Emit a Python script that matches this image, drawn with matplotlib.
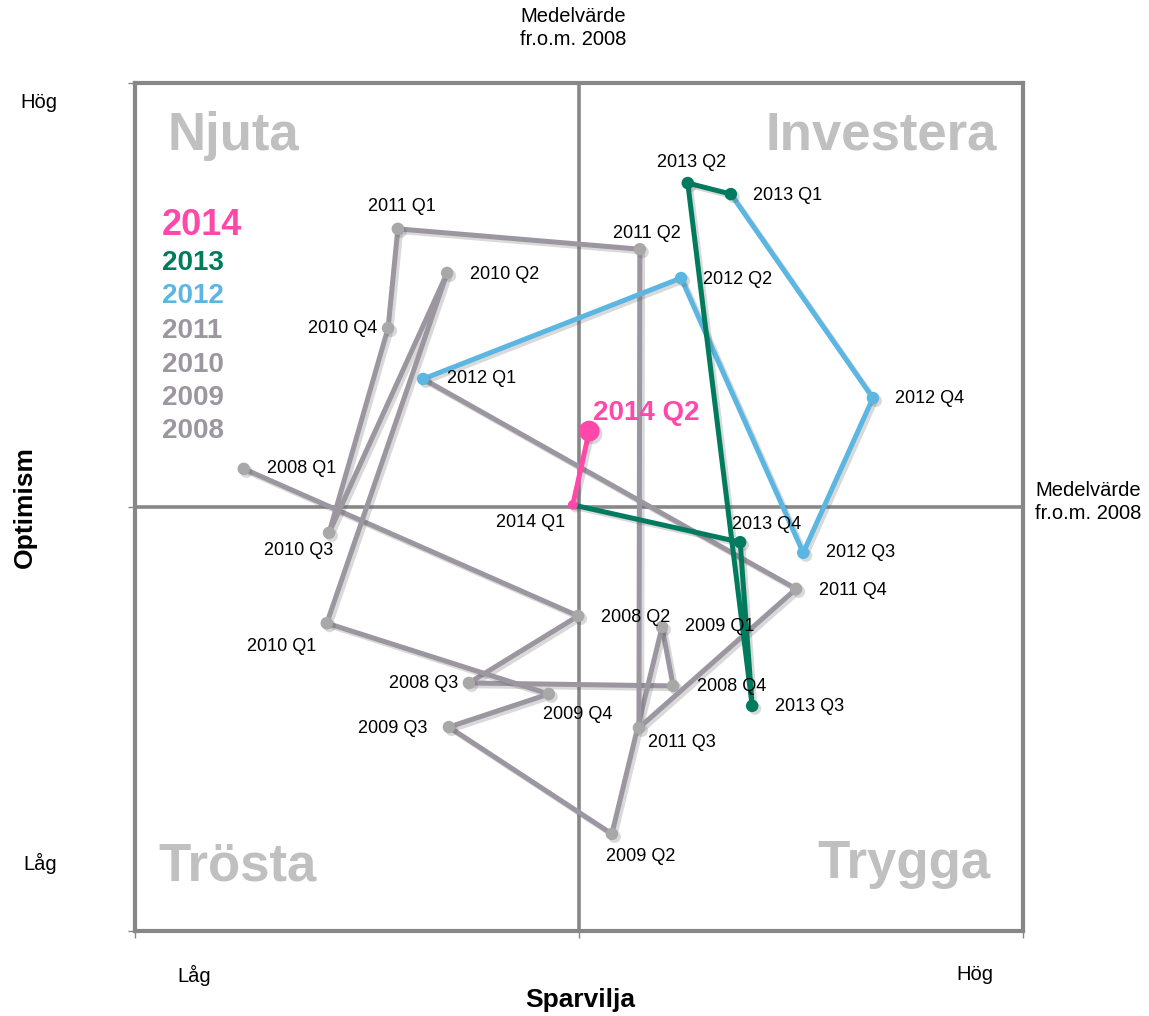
"""Sparvilja vs optimism quadrant chart, quarterly path 2008-2014."""
import matplotlib

matplotlib.use("Agg")

import matplotlib.pyplot as plt
import matplotlib.patheffects as pe

plt.rcParams["font.family"] = ["Liberation Sans", "DejaVu Sans"]

# data: one point per quarter, x = sparvilja, y = optimism (deviation from mean, scaled -100..100)
quarters = [
    "2008 Q1", "2008 Q2", "2008 Q3", "2008 Q4",
    "2009 Q1", "2009 Q2", "2009 Q3", "2009 Q4",
    "2010 Q1", "2010 Q2", "2010 Q3", "2010 Q4",
    "2011 Q1", "2011 Q2", "2011 Q3", "2011 Q4",
    "2012 Q1", "2012 Q2", "2012 Q3", "2012 Q4",
    "2013 Q1", "2013 Q2", "2013 Q3", "2013 Q4",
    "2014 Q1", "2014 Q2",
]
sparvilja = [
    -75.5, -0.2, -24.8, 21.2,
    18.7, 7.4, -29.3, -6.8,
    -56.8, -29.7, -56.3, -43.0,
    -40.8, 13.7, 13.5, 48.9,
    -35.1, 23.0, 50.5, 66.2,
    34.2, 24.5, 39.0, 36.3,
    -1.4, 2.3,
]
optimism = [
    9.0, -25.7, -41.5, -42.2,
    -28.3, -77.1, -51.9, -44.1,
    -27.4, 55.2, -6.1, 42.2,
    65.6, 60.8, -52.1, -19.3,
    30.2, 54.0, -10.8, 25.7,
    73.8, 76.4, -46.9, -8.3,
    0.5, 17.9,
]
years = [2008, 2009, 2010, 2011, 2012, 2013, 2014]

# styling
GRAY_LINE = "#9c96a0"
GRAY_DOT = "#a8a8a8"
year_colors = {
    2008: GRAY_LINE, 2009: GRAY_LINE, 2010: GRAY_LINE, 2011: GRAY_LINE,
    2012: "#5cb6e2", 2013: "#007b5e", 2014: "#ff48aa",
}
dot_colors = {2008: GRAY_DOT, 2009: GRAY_DOT, 2010: GRAY_DOT, 2011: GRAY_DOT}
FRAME = "#878787"

# label offsets in pixels (dx, dy, ha)
label_pos = {
    "2008 Q1": (23, 0, "left"), "2008 Q2": (23, -2, "left"),
    "2008 Q3": (-11, -1, "right"), "2008 Q4": (24, -1, "left"),
    "2009 Q1": (23, 0, "left"), "2009 Q2": (29, -23, "center"),
    "2009 Q3": (-22, -1, "right"), "2009 Q4": (-6, -21, "left"),
    "2010 Q1": (-45, -23, "center"), "2010 Q2": (23, -2, "left"),
    "2010 Q3": (-30, -18, "center"), "2010 Q4": (-11, 0, "right"),
    "2011 Q1": (4, 22, "center"), "2011 Q2": (7, 16, "center"),
    "2011 Q3": (9, -15, "left"), "2011 Q4": (23, -2, "left"),
    "2012 Q1": (24, 0, "left"), "2012 Q2": (22, -1, "left"),
    "2012 Q3": (23, 0, "left"), "2012 Q4": (22, 0, "left"),
    "2013 Q1": (22, -1, "left"), "2013 Q2": (4, 21, "center"),
    "2013 Q3": (23, -1, "left"), "2013 Q4": (-8, 18, "left"),
    "2014 Q1": (-8, -18, "right"), "2014 Q2": (4, 18, "left"),
}

W, H = 1149, 1016
fig = plt.figure(figsize=(W / 100, H / 100), dpi=100)


def fpos(x, y):
    return x / W, 1 - y / H


ax = fig.add_axes([135 / W, (H - 931) / H, 888 / W, 848 / H])
ax.set_xlim(-100, 100)
ax.set_ylim(-100, 100)
for s in ax.spines.values():
    s.set_color(FRAME)
    s.set_linewidth(3)
ax.axhline(0, color=FRAME, lw=2.6, zorder=0.5)
ax.axvline(0, color=FRAME, lw=2.6, zorder=0.5)
ax.set_xticks([-100, 0, 100])
ax.set_yticks([-100, 0, 100])
ax.tick_params(length=5, width=1, color=FRAME, labelbottom=False, labelleft=False)

line_shadow = [pe.SimpleLineShadow(offset=(2, -2), shadow_color="#555555", alpha=0.22), pe.Normal()]
dot_shadow = [pe.SimplePatchShadow(offset=(2, -2), shadow_rgbFace="#555555", alpha=0.22), pe.Normal()]

yr = [int(q[:4]) for q in quarters]
for i, y in enumerate(years):
    idx = [k for k, v in enumerate(yr) if v == y]
    end = min(idx[-1] + 2, len(quarters))
    ax.plot(sparvilja[idx[0]:end], optimism[idx[0]:end], color=year_colors[y],
            lw=3.6, solid_capstyle="round", zorder=2 + i, path_effects=line_shadow)
    for k in idx:
        ms = 9
        if y == 2014:
            ms = 15 if quarters[k].endswith("Q2") else 7
        ax.plot(sparvilja[k], optimism[k], "o", ms=ms, mec="none",
                color=dot_colors.get(y, year_colors[y]), zorder=2.5 + i, path_effects=dot_shadow)

for k, q in enumerate(quarters):
    dx, dy, ha = label_pos[q]
    if q == "2014 Q2":
        ax.annotate(q, (sparvilja[k], optimism[k]), xytext=(dx, dy), textcoords="offset pixels",
                    ha=ha, va="center", fontsize=20, fontweight="bold",
                    color=year_colors[2014], zorder=20)
    else:
        ax.annotate(q, (sparvilja[k], optimism[k]), xytext=(dx, dy), textcoords="offset pixels",
                    ha=ha, va="center", fontsize=13, color="black", zorder=20)

# quadrant names
qkw = dict(transform=ax.transAxes, fontsize=38, fontweight="bold", color="#c0c0c0", va="baseline", zorder=1)
ax.text(0.037, 0.921, "Njuta", ha="left", **qkw)
ax.text(0.971, 0.921, "Investera", ha="right", **qkw)
ax.text(0.026, 0.060, "Trösta", ha="left", **qkw)
ax.text(0.963, 0.0625, "Trygga", ha="right", **qkw)

# year legend
legend_base = [0.821, 0.7795, 0.7406, 0.699, 0.659, 0.620, 0.581]
for y, b in zip(sorted(years, reverse=True), legend_base):
    ax.text(0.030, b, str(y), transform=ax.transAxes, ha="left", va="baseline",
            fontsize=26 if y == 2014 else 20, fontweight="bold", color=year_colors[y], zorder=1)

# axis annotations
fig.text(*fpos(573, 28), "Medelvärde\nfr.o.m. 2008", ha="center", va="center", fontsize=14.5, linespacing=1.25)
fig.text(*fpos(1035, 502), "Medelvärde\nfr.o.m. 2008", ha="left", va="center", fontsize=14.5, linespacing=1.25)
fig.text(*fpos(39, 102), "Hög", ha="center", va="center", fontsize=14.5)
fig.text(*fpos(40, 863), "Låg", ha="center", va="center", fontsize=14.5)
fig.text(*fpos(194, 975), "Låg", ha="center", va="center", fontsize=14.5)
fig.text(*fpos(975, 975), "Hög", ha="center", va="center", fontsize=14.5)
fig.text(*fpos(580, 1000), "Sparvilja", ha="center", va="center", fontsize=19, fontweight="bold")
fig.text(*fpos(25, 507), "Optimism", ha="center", va="center", fontsize=19, fontweight="bold", rotation=90)

fig.savefig("out.png", dpi=100)
plt.close(fig)
